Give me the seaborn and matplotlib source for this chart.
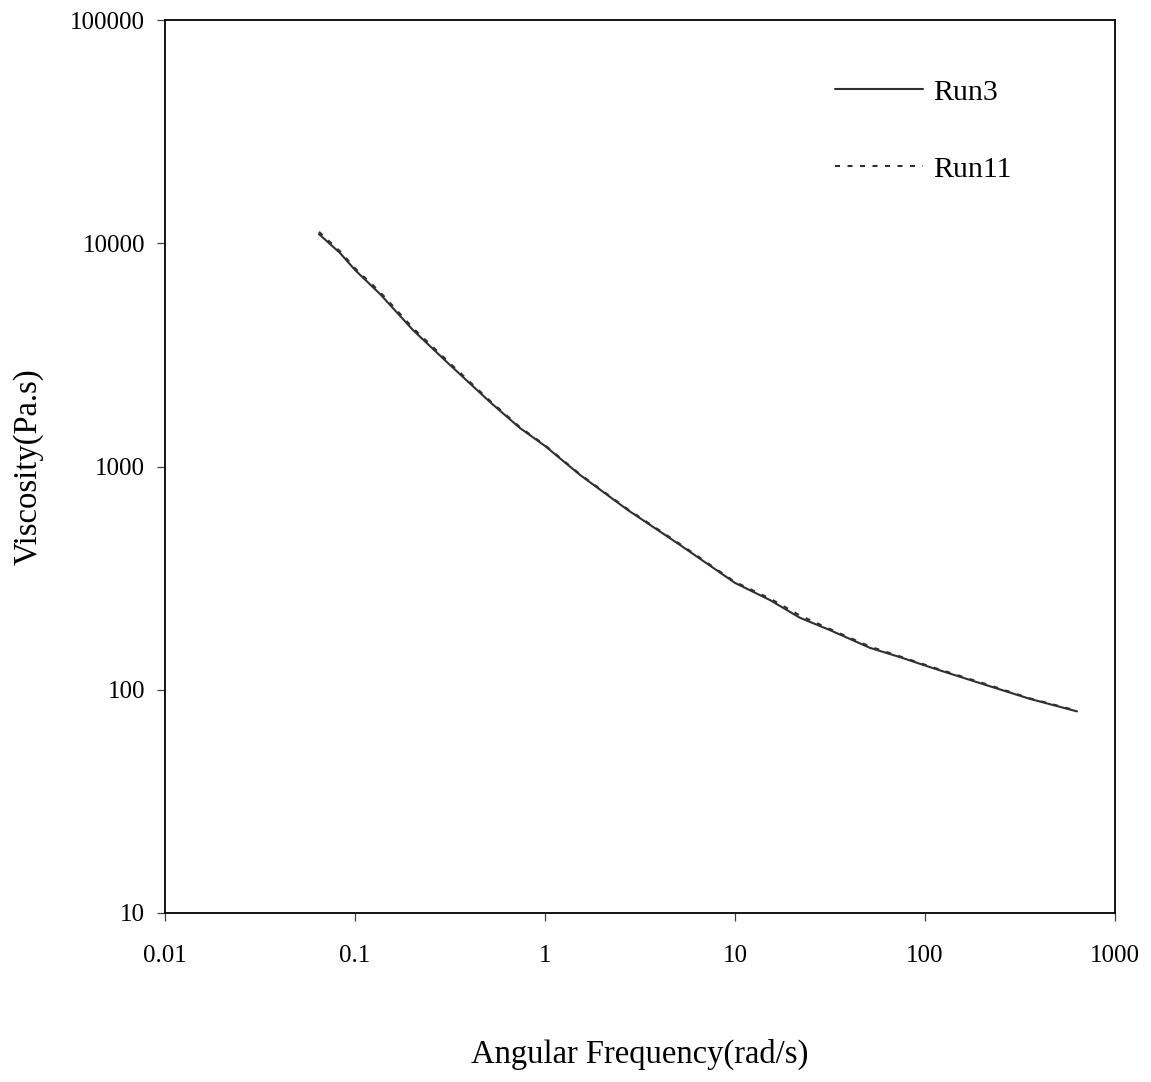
import numpy as np
import pandas as pd
import seaborn as sns
import matplotlib.pyplot as plt
from matplotlib.ticker import FixedLocator, FixedFormatter, NullLocator

# angular frequency (rad/s)
freq = [0.0646, 0.0834, 0.1, 0.1354, 0.2018, 0.316, 0.513, 0.738, 1.0, 1.53,
        2.73, 5.14, 10.0, 15.3, 21.98, 31.6, 51.4, 73.8, 110.0, 202.0, 357.0, 631.0]
# viscosity (Pa.s)
run3 = [10990, 9040, 7590, 5925, 4086, 2850, 1945, 1487, 1236, 916,
        638, 445, 301, 252, 210, 185, 154, 140, 125, 106, 91, 80]
run11 = [11250, 9200, 7720, 6050, 4170, 2900, 1970, 1500, 1245, 922,
         643, 449, 304, 256, 215, 187, 156, 141, 126, 107, 91.5, 80.5]

xticks = [0.01, 0.1, 1, 10, 100, 1000]
xticklabels = ['0.01', '0.1', '1', '10', '100', '1000']
yticks = [10, 100, 1000, 10000, 100000]
yticklabels = ['10', '100', '1000', '10000', '100000']

sns.set_style('ticks')
plt.rcParams['font.family'] = ['Liberation Serif', 'DejaVu Serif']
plt.rcParams['text.color'] = 'black'
plt.rcParams['axes.labelcolor'] = 'black'
plt.rcParams['xtick.color'] = 'black'
plt.rcParams['ytick.color'] = 'black'

df = pd.DataFrame({'freq': freq, 'Run3': run3, 'Run11': run11})

fig = plt.figure(figsize=(11.51, 10.82), dpi=100)
ax = fig.add_axes([0.1434, 0.1562, 0.8253, 0.8253])

sns.lineplot(data=df, x='freq', y='Run3', ax=ax, color='#303030', lw=1.5,
             sort=False, label='Run3')
sns.lineplot(data=df, x='freq', y='Run11', ax=ax, color='#303030', lw=1.5,
             sort=False, label='Run11', linestyle=(0, (2.4, 3.6)))

ax.set_xscale('log')
ax.set_yscale('log')
ax.set_xlim(0.01, 1000)
ax.set_ylim(10, 100000)
ax.xaxis.set_major_locator(FixedLocator(xticks))
ax.xaxis.set_major_formatter(FixedFormatter(xticklabels))
ax.yaxis.set_major_locator(FixedLocator(yticks))
ax.yaxis.set_major_formatter(FixedFormatter(yticklabels))
ax.xaxis.set_minor_locator(NullLocator())
ax.yaxis.set_minor_locator(NullLocator())
ax.tick_params(axis='both', which='major', direction='out', length=6, width=0.9,
               labelsize=18, color='#404040', labelcolor='black')
ax.tick_params(axis='x', pad=17)
ax.tick_params(axis='y', pad=8.5)
for sp in ax.spines.values():
    sp.set_color('black')
    sp.set_linewidth(1.3)

ax.set_xlabel('Angular Frequency(rad/s)', fontsize=23.5, labelpad=52)
ax.set_ylabel('Viscosity(Pa.s)', fontsize=23.5, labelpad=19)

leg = ax.legend(loc='upper left', bbox_to_anchor=(0.705, 0.934), frameon=False,
                borderaxespad=0, borderpad=0,
                fontsize=21.5, handlelength=2.95, handletextpad=0.33, labelspacing=1.68)

fig.savefig('out.png', dpi=100, facecolor='white')
